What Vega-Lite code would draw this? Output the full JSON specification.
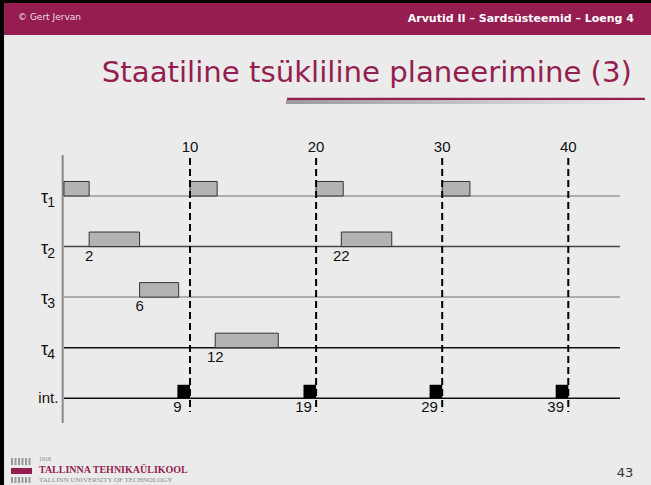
{
  "$schema": "https://vega.github.io/schema/vega-lite/v6.json",
  "width": 651,
  "height": 485,
  "padding": 0,
  "autosize": {"type": "fit", "contains": "padding"},
  "background": "#EBEBEB",
  "config": {"view": {"stroke": null}},
  "datasets": {
    "tasks": [
      {"task": "τ1", "row": 1, "start": 0, "end": 2},
      {"task": "τ1", "row": 1, "start": 10, "end": 12.15},
      {"task": "τ1", "row": 1, "start": 20, "end": 22.15},
      {"task": "τ1", "row": 1, "start": 30, "end": 32.2},
      {"task": "τ2", "row": 2, "start": 2, "end": 6, "label": "2"},
      {"task": "τ2", "row": 2, "start": 22, "end": 26, "label": "22"},
      {"task": "τ3", "row": 3, "start": 6, "end": 9.1, "label": "6"},
      {"task": "τ4", "row": 4, "start": 12, "end": 17, "label": "12"},
      {"task": "int.", "row": 5, "start": 9, "end": 10, "label": "9"},
      {"task": "int.", "row": 5, "start": 19, "end": 20, "label": "19"},
      {"task": "int.", "row": 5, "start": 29, "end": 30, "label": "29"},
      {"task": "int.", "row": 5, "start": 39, "end": 40, "label": "39"}
    ],
    "rows": [
      {"row": 1, "name": "τ", "sub": "1"},
      {"row": 2, "name": "τ", "sub": "2"},
      {"row": 3, "name": "τ", "sub": "3"},
      {"row": 4, "name": "τ", "sub": "4"},
      {"row": 5, "name": "int.", "sub": ""}
    ],
    "marks": [{"t": 10}, {"t": 20}, {"t": 30}, {"t": 40}]
  },
  "layer": [
    {
      "data": {"values": [{}]},
      "mark": {"type": "rect", "color": "#000000"},
      "encoding": {
        "x": {"datum": -5.07, "type": "quantitative", "scale": {"domain": [-5.07, 46.56], "nice": false, "zero": false}, "axis": null},
        "x2": {"datum": -4.75},
        "y": {"datum": -2.875, "type": "quantitative", "scale": {"domain": [-2.875, 6.715], "reverse": true, "nice": false, "zero": false}, "axis": null},
        "y2": {"datum": 6.715}
      }
    },
    {
      "data": {"values": [{}]},
      "mark": {"type": "rect", "color": "#000000"},
      "encoding": {
        "x": {"datum": -5.07}, "x2": {"datum": 46.56},
        "y": {"datum": -2.875}, "y2": {"datum": -2.816}
      }
    },
    {
      "data": {"values": [{}]},
      "mark": {"type": "rect", "color": "#951D50"},
      "encoding": {
        "x": {"datum": -4.75}, "x2": {"datum": 46.56},
        "y": {"datum": -2.816}, "y2": {"datum": -2.183}
      }
    },
    {
      "data": {"values": [{}]},
      "mark": {"type": "text", "text": "© Gert Jervan", "align": "left", "baseline": "middle", "font": "DejaVu Sans", "fontSize": 9, "color": "#F2DCE5"},
      "encoding": {"x": {"datum": -3.64}, "y": {"datum": -2.539}}
    },
    {
      "data": {"values": [{}]},
      "mark": {"type": "text", "text": "Arvutid II – Sardsüsteemid – Loeng 4", "align": "right", "baseline": "middle", "font": "DejaVu Sans", "fontWeight": "bold", "fontSize": 11, "color": "#FFFFFF"},
      "encoding": {"x": {"datum": 45.21}, "y": {"datum": -2.499}}
    },
    {
      "data": {"values": [{}]},
      "mark": {"type": "text", "text": "Staatiline tsükliline planeerimine (3)", "align": "right", "baseline": "alphabetic", "font": "DejaVu Sans", "fontSize": 29.2, "color": "#941E4F"},
      "encoding": {"x": {"datum": 45.05}, "y": {"datum": -1.25}}
    },
    {
      "data": {"values": [{}]},
      "mark": {"type": "rect", "color": "#951D50"},
      "encoding": {
        "x": {"datum": 17.69}, "x2": {"datum": 46.08},
        "y": {"datum": -0.943}, "y2": {"datum": -0.898}
      }
    },
    {
      "data": {"values": [{}]},
      "mark": {"type": "rect", "color": {"gradient": "linear", "x1": 0, "y1": 0, "x2": 1, "y2": 0, "stops": [{"offset": 0, "color": "#9A9A9A"}, {"offset": 1, "color": "#EBEBEB"}]}},
      "encoding": {
        "x": {"datum": 17.61}, "x2": {"datum": 46.08},
        "y": {"datum": -0.898}, "y2": {"datum": -0.818}
      }
    },
    {
      "data": {"values": [{}]},
      "mark": {"type": "rule", "color": "#888888", "strokeWidth": 2},
      "encoding": {"x": {"datum": -0.1}, "y": {"datum": 0.19}, "y2": {"datum": 5.49}}
    },
    {
      "data": {"name": "rows"},
      "mark": {"type": "rule", "strokeWidth": 1.5},
      "encoding": {
        "x": {"datum": 0}, "x2": {"datum": 44.1},
        "y": {"field": "row", "type": "quantitative"},
        "color": {"field": "row", "type": "ordinal", "scale": {"domain": [1, 2, 3, 4, 5], "range": ["#9A9A9A", "#444444", "#9A9A9A", "#111111", "#111111"]}, "legend": null}
      }
    },
    {
      "data": {"name": "tasks"},
      "transform": [{"filter": "datum.row < 5"}],
      "mark": {"type": "rect", "color": "#B3B3B3", "stroke": "#333333", "strokeWidth": 1, "y2Offset": -14.5},
      "encoding": {
        "x": {"field": "start", "type": "quantitative"},
        "x2": {"field": "end"},
        "y": {"field": "row", "type": "quantitative"},
        "y2": {"field": "row"}
      }
    },
    {
      "data": {"name": "tasks"},
      "transform": [{"filter": "datum.row == 5"}],
      "mark": {"type": "rect", "color": "#000000", "y2Offset": -13.5},
      "encoding": {
        "x": {"field": "start", "type": "quantitative"},
        "x2": {"field": "end"},
        "y": {"field": "row", "type": "quantitative"},
        "y2": {"field": "row"}
      }
    },
    {
      "data": {"name": "marks"},
      "mark": {"type": "rule", "color": "#000000", "strokeWidth": 2, "strokeDash": [7, 4]},
      "encoding": {
        "x": {"field": "t", "type": "quantitative"},
        "y": {"datum": 0.25}, "y2": {"datum": 5.27}
      }
    },
    {
      "data": {"name": "marks"},
      "mark": {"type": "text", "align": "center", "baseline": "middle", "font": "Liberation Sans", "fontSize": 15, "color": "#111111"},
      "encoding": {
        "x": {"field": "t", "type": "quantitative"},
        "y": {"datum": 0.03},
        "text": {"field": "t"}
      }
    },
    {
      "data": {"name": "tasks"},
      "transform": [{"filter": "isValid(datum.label)"}],
      "mark": {"type": "text", "align": "center", "baseline": "alphabetic", "dy": 14, "font": "Liberation Sans", "fontSize": 15, "color": "#111111"},
      "encoding": {
        "x": {"field": "start", "type": "quantitative"},
        "y": {"field": "row", "type": "quantitative"},
        "text": {"field": "label"}
      }
    },
    {
      "data": {"name": "rows"},
      "transform": [{"filter": "datum.row < 5"}],
      "mark": {"type": "text", "align": "center", "baseline": "alphabetic", "dy": 7, "font": "Liberation Sans", "fontSize": 18, "color": "#111111"},
      "encoding": {
        "x": {"datum": -1.54},
        "y": {"field": "row", "type": "quantitative"},
        "text": {"field": "name"}
      }
    },
    {
      "data": {"name": "rows"},
      "transform": [{"filter": "datum.row < 5"}],
      "mark": {"type": "text", "align": "center", "baseline": "alphabetic", "dy": 11, "font": "Liberation Sans", "fontSize": 14, "color": "#111111"},
      "encoding": {
        "x": {"datum": -1.02},
        "y": {"field": "row", "type": "quantitative"},
        "text": {"field": "sub"}
      }
    },
    {
      "data": {"name": "rows"},
      "transform": [{"filter": "datum.row == 5"}],
      "mark": {"type": "text", "align": "right", "baseline": "alphabetic", "dy": 5, "font": "Liberation Sans", "fontSize": 15, "color": "#111111"},
      "encoding": {
        "x": {"datum": -0.44},
        "y": {"field": "row", "type": "quantitative"},
        "text": {"field": "name"}
      }
    },
    {
      "data": {"values": [{}]},
      "mark": {"type": "rule", "color": "#9A9A9A", "strokeWidth": 7, "strokeDash": [2, 1.5]},
      "encoding": {"x": {"datum": -4.198}, "x2": {"datum": -2.53}, "y": {"datum": 6.25}}
    },
    {
      "data": {"values": [{}]},
      "mark": {"type": "rule", "color": "#951D50", "strokeWidth": 6},
      "encoding": {"x": {"datum": -4.198}, "x2": {"datum": -2.53}, "y": {"datum": 6.438}}
    },
    {
      "data": {"values": [{}]},
      "mark": {"type": "rule", "color": "#9A9A9A", "strokeWidth": 6, "strokeDash": [2, 1.5]},
      "encoding": {"x": {"datum": -4.198}, "x2": {"datum": -2.53}, "y": {"datum": 6.616}}
    },
    {
      "data": {"values": [{}]},
      "mark": {"type": "text", "text": "1918", "align": "left", "baseline": "middle", "font": "Liberation Serif", "fontSize": 6, "color": "#8A8A8A"},
      "encoding": {"x": {"datum": -1.98}, "y": {"datum": 6.199}}
    },
    {
      "data": {"values": [{}]},
      "mark": {"type": "text", "text": "TALLINNA TEHNIKAÜLIKOOL", "align": "left", "baseline": "middle", "font": "Liberation Serif", "fontWeight": "bold", "fontSize": 10, "color": "#951D50"},
      "encoding": {"x": {"datum": -1.98}, "y": {"datum": 6.418}}
    },
    {
      "data": {"values": [{}]},
      "mark": {"type": "text", "text": "TALLINN UNIVERSITY OF TECHNOLOGY", "align": "left", "baseline": "middle", "font": "Liberation Serif", "fontSize": 7, "color": "#8A8A8A"},
      "encoding": {"x": {"datum": -1.98}, "y": {"datum": 6.616}}
    },
    {
      "data": {"values": [{}]},
      "mark": {"type": "text", "text": "43", "align": "center", "baseline": "middle", "font": "DejaVu Sans", "fontSize": 13, "color": "#333333"},
      "encoding": {"x": {"datum": 44.49}, "y": {"datum": 6.477}}
    }
  ]
}
